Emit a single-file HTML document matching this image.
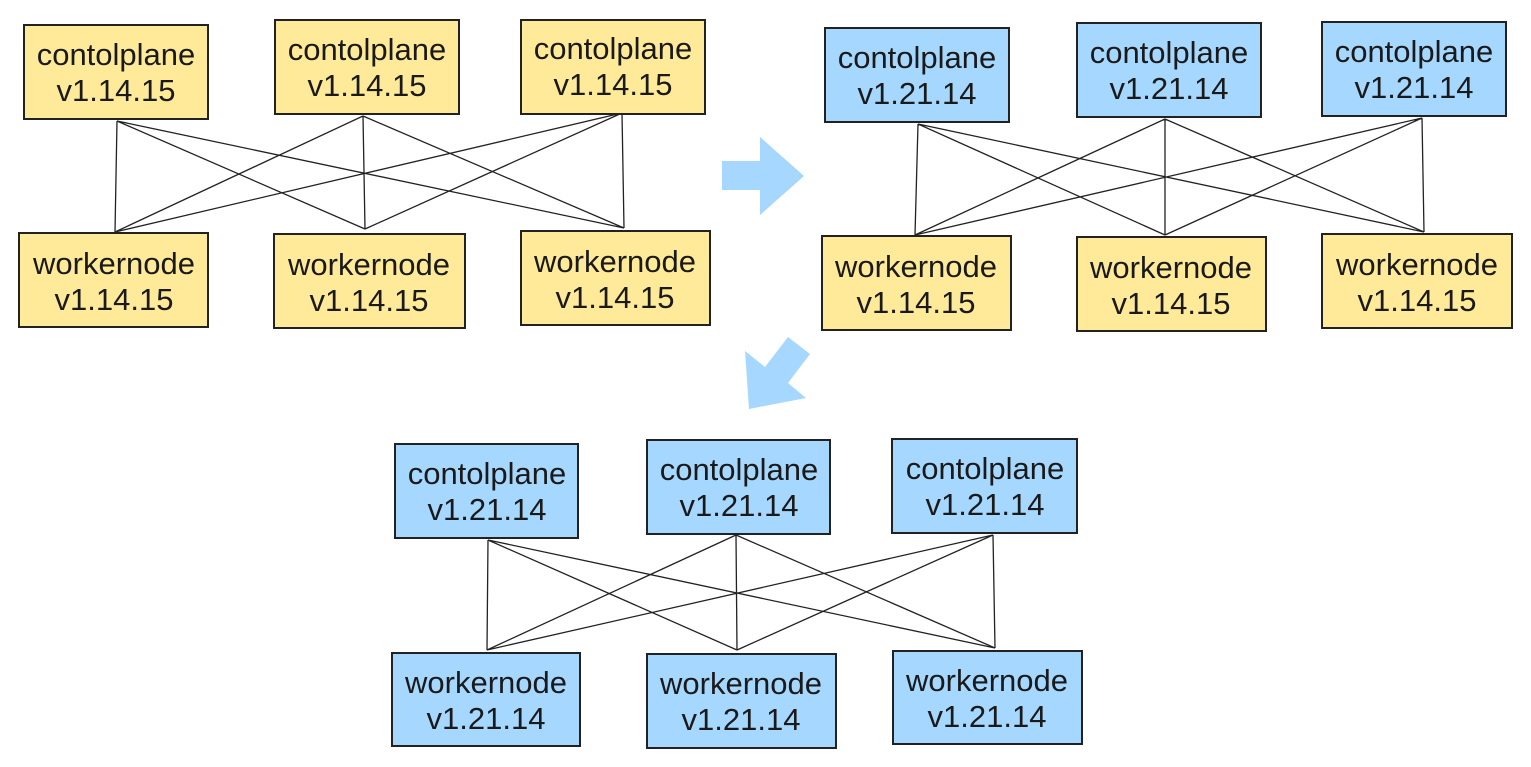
<!DOCTYPE html>
<html><head><style>
html,body{margin:0;padding:0;background:#fff;width:1531px;height:767px;overflow:hidden}
svg{display:block}
text{font-family:"Liberation Sans",sans-serif;font-size:31px;fill:#1a1a1a;text-anchor:middle}
.y{fill:#ffea99;stroke:#222;stroke-width:2}
.b{fill:#a6d8ff;stroke:#222;stroke-width:2}
.l{stroke:#222;stroke-width:1.3;fill:none}
</style></head><body>
<svg width="1531" height="767" viewBox="0 0 1531 767" xmlns="http://www.w3.org/2000/svg">
<g class="l">
<path d="M117 121L115 232M117 121L365 229M117 121L624 228M363 116L115 232M363 116L365 229M363 116L624 228M622 113L115 232M622 113L365 229M622 113L624 228"/>
</g>
<rect class="y" x="24" y="25" width="184" height="94"/><text x="116" y="65">contolplane</text><text x="116" y="101">v1.14.15</text>
<rect class="y" x="275" y="20" width="184" height="94"/><text x="367" y="60">contolplane</text><text x="367" y="96">v1.14.15</text>
<rect class="y" x="521" y="20" width="184" height="94"/><text x="613" y="59">contolplane</text><text x="613" y="95">v1.14.15</text>
<rect class="y" x="19" y="233" width="189" height="94"/><text x="114" y="274">workernode</text><text x="114" y="310">v1.14.15</text>
<rect class="y" x="274" y="234" width="191" height="94"/><text x="369" y="275">workernode</text><text x="369" y="311">v1.14.15</text>
<rect class="y" x="521" y="231" width="189" height="94"/><text x="615" y="272">workernode</text><text x="615" y="308">v1.14.15</text>
<g class="l">
<path d="M918 124L915 235M918 124L1165 235M918 124L1424 232M1165 119L915 235M1165 119L1165 235M1165 119L1424 232M1422 118L915 235M1422 118L1165 235M1422 118L1424 232"/>
</g>
<rect class="b" x="825" y="28" width="184" height="94"/><text x="917" y="68">contolplane</text><text x="917" y="104">v1.21.14</text>
<rect class="b" x="1077" y="23" width="184" height="94"/><text x="1169" y="63">contolplane</text><text x="1169" y="99">v1.21.14</text>
<rect class="b" x="1322" y="22" width="184" height="94"/><text x="1414" y="62">contolplane</text><text x="1414" y="98">v1.21.14</text>
<rect class="y" x="822" y="236" width="189" height="94"/><text x="916" y="277">workernode</text><text x="916" y="313">v1.14.15</text>
<rect class="y" x="1077" y="237" width="189" height="94"/><text x="1171" y="278">workernode</text><text x="1171" y="314">v1.14.15</text>
<rect class="y" x="1322" y="234" width="190" height="94"/><text x="1417" y="275">workernode</text><text x="1417" y="311">v1.14.15</text>
<g class="l">
<path d="M488 540L487 650M488 540L737 650M488 540L995 648M736 535L487 650M736 535L737 650M736 535L995 648M993 535L487 650M993 535L737 650M993 535L995 648"/>
</g>
<rect class="b" x="395" y="444" width="183" height="94"/><text x="487" y="484">contolplane</text><text x="487" y="520">v1.21.14</text>
<rect class="b" x="647" y="440" width="183" height="94"/><text x="739" y="480">contolplane</text><text x="739" y="516">v1.21.14</text>
<rect class="b" x="892" y="439" width="185" height="94"/><text x="985" y="479">contolplane</text><text x="985" y="515">v1.21.14</text>
<rect class="b" x="392" y="653" width="188" height="93"/><text x="486" y="693">workernode</text><text x="486" y="729">v1.21.14</text>
<rect class="b" x="647" y="654" width="189" height="94"/><text x="741" y="694">workernode</text><text x="741" y="730">v1.21.14</text>
<rect class="b" x="893" y="651" width="189" height="93"/><text x="987" y="691">workernode</text><text x="987" y="727">v1.21.14</text>
<path d="M722 161H760V137L804 176L760 215V190H722Z" fill="#a6d8ff"/>
<path d="M788 337L810 354L788 383L806 398L749 409L745 351L765 367Z" fill="#a6d8ff"/>
</svg>
</body></html>
